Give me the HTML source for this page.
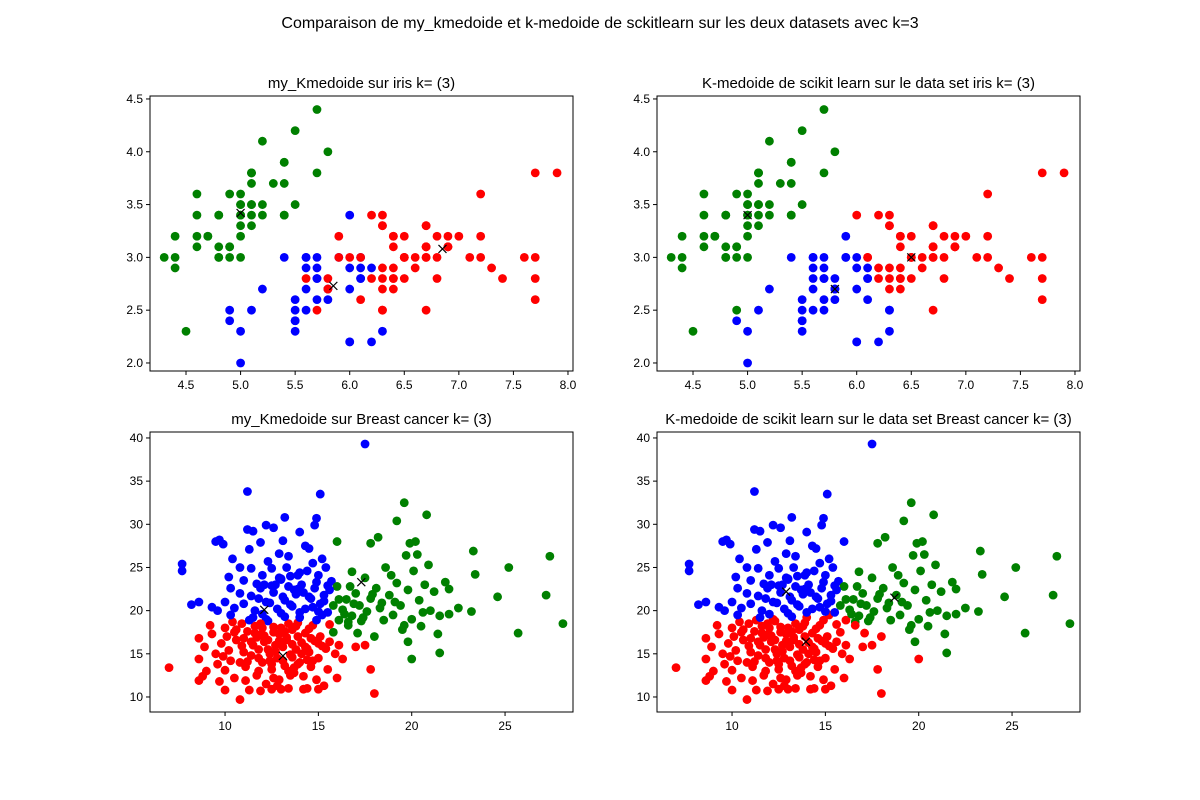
<!DOCTYPE html>
<html><head><meta charset="utf-8"><style>
body{margin:0;background:#fff;}
svg{display:block;font-family:"Liberation Sans","DejaVu Sans",sans-serif;}
</style></head><body>
<svg id="fig" width="1200" height="800" viewBox="0 0 1200 800">
<text x="600" y="28" text-anchor="middle" font-size="16">Comparaison de my_kmedoide et k-medoide de sckitlearn sur les deux datasets avec k=3</text>
</svg>
<script>
// ---- Iris data (sepal length, sepal width) ----
const irisX=[5.1,4.9,4.7,4.6,5.0,5.4,4.6,5.0,4.4,4.9,5.4,4.8,4.8,4.3,5.8,5.7,5.4,5.1,5.7,5.1,5.4,5.1,4.6,5.1,4.8,5.0,5.0,5.2,5.2,4.7,4.8,5.4,5.2,5.5,4.9,5.0,5.5,4.9,4.4,5.1,5.0,4.5,4.4,5.0,5.1,4.8,5.1,4.6,5.3,5.0,
7.0,6.4,6.9,5.5,6.5,5.7,6.3,4.9,6.6,5.2,5.0,5.9,6.0,6.1,5.6,6.7,5.6,5.8,6.2,5.6,5.9,6.1,6.3,6.1,6.4,6.6,6.8,6.7,6.0,5.7,5.5,5.5,5.8,6.0,5.4,6.0,6.7,6.3,5.6,5.5,5.5,6.1,5.8,5.0,5.6,5.7,5.7,6.2,5.1,5.7,
6.3,5.8,7.1,6.3,6.5,7.6,4.9,7.3,6.7,7.2,6.5,6.4,6.8,5.7,5.8,6.4,6.5,7.7,7.7,6.0,6.9,5.6,7.7,6.3,6.7,7.2,6.2,6.1,6.4,7.2,7.4,7.9,6.4,6.3,6.1,7.7,6.3,6.4,6.0,6.9,6.7,6.9,5.8,6.8,6.7,6.7,6.3,6.5,6.2,5.9];
const irisY=[3.5,3.0,3.2,3.1,3.6,3.9,3.4,3.4,2.9,3.1,3.7,3.4,3.0,3.0,4.0,4.4,3.9,3.5,3.8,3.8,3.4,3.7,3.6,3.3,3.4,3.0,3.4,3.5,3.4,3.2,3.1,3.4,4.1,4.2,3.1,3.2,3.5,3.6,3.0,3.4,3.5,2.3,3.2,3.5,3.8,3.0,3.8,3.2,3.7,3.3,
3.2,3.2,3.1,2.3,2.8,2.8,3.3,2.4,2.9,2.7,2.0,3.0,2.2,2.9,2.9,3.1,3.0,2.7,2.2,2.5,3.2,2.8,2.5,2.8,2.9,3.0,2.8,3.0,2.9,2.6,2.4,2.4,2.7,2.7,3.0,3.4,3.1,2.3,3.0,2.5,2.6,3.0,2.6,2.3,2.7,3.0,2.9,2.9,2.5,2.8,
3.3,2.7,3.0,2.9,3.0,3.0,2.5,2.9,2.5,3.6,3.2,2.7,3.0,2.5,2.8,3.2,3.0,3.8,2.6,2.2,3.2,2.8,2.8,2.7,3.3,3.2,2.8,3.0,2.8,3.0,2.8,3.8,2.8,2.8,2.6,3.0,3.4,3.1,3.0,3.1,3.1,3.1,2.7,3.2,3.3,3.0,2.5,3.0,3.4,3.0];
// cluster labels of my_Kmedoide on iris (g=green, b=blue, r=red)
const irisLabels1=("gggggggggggggggggggggggggggggggggggggggggggggggggg"+
"rrrbrbrbrb"+"bbbbbrbbbb"+"rbrbrrrrbb"+"bbbbbbrbbb"+"bbbbbbbbbb"+
"rrrrrrbrrr"+"rrrrrrrrrb"+"rrrrrrrrrr"+"rrrrrrrrrr"+"rrrrrrrrrr").split('');
// medoids [green, blue, red]
const irisMedX1=[5.0,5.85,6.85], irisMedY1=[3.42,2.73,3.08];
const irisMedX2=[5.0,5.8,6.5],  irisMedY2=[3.4,2.7,3.0];
// ---- Breast cancer (mean radius, mean texture) ----
const bcX=[7.0,8.6,8.6,8.9,8.8,8.6,9.0,9.3,9.5,9.6,9.7,9.8,10.0,10.1,10.2,10.3,10.5,10.6,10.8,10.9,11.0,11.1,11.2,11.3,11.4,11.5,11.6,11.7,11.8,11.9,12.0,12.1,12.2,12.3,12.4,12.5,12.6,12.7,12.8,12.9,13.0,13.1,13.2,13.3,13.4,13.5,13.6,13.7,13.8,13.9,14.0,14.1,14.2,14.3,14.4,14.5,14.6,14.7,14.8,14.9,15.0,15.1,15.3,15.4,15.5,15.6,15.9,16.1,16.3,16.6,17.0,17.8,18.0,11.1,10.0,12.5,13.0,14.2,11.8,12.3,12.9,13.6,14.4,11.3,10.4,9.2,11.0,12.0,13.4,14.9,15.8,16.0,15.0,10.0,9.9,10.8,12.6,13.9,14.7,15.6,11.9,12.2,13.2,14.0,15.2,16.1,11.5,10.3,12.8,13.5,14.1,12.4,
10.6,11.4,12.1,12.7,13.3,13.9,14.6,15.2,10.9,11.6,12.3,12.9,13.6,14.3,11.9,12.6,13.2,13.8,14.5,11.2,11.8,12.5,13.1,13.7,14.4,15.0,10.5,11.7,12.9,13.4,
7.7,7.7,8.2,8.6,9.5,9.7,9.9,11.2,11.2,11.5,11.3,11.9,12.2,12.6,12.9,13.1,13.2,13.4,14.0,14.3,14.5,14.8,14.9,15.1,10.4,10.2,11.7,11.4,12.0,12.5,13.0,13.3,13.9,14.4,14.7,15.0,15.4,15.7,16.0,9.3,10.0,10.5,10.8,11.0,11.4,11.6,11.9,12.2,12.5,12.8,13.1,13.4,13.6,13.8,14.1,14.3,14.6,14.8,15.1,15.3,15.5,15.8,16.1,10.3,9.6,12.0,13.0,14.0,15.0,11.0,12.7,13.5,14.2,15.6,12.3,10.8,17.5,16.0,15.2,
12.4,13.2,13.7,14.5,15.3,12.9,13.9,14.9,11.8,12.6,13.5,14.7,15.5,12.1,13.0,14.0,
16.3,16.5,16.8,17.0,17.2,17.3,17.5,17.6,17.8,18.0,18.1,18.3,18.5,18.6,18.8,19.0,19.2,19.4,19.5,19.7,19.8,20.0,20.1,20.2,20.4,20.5,20.7,20.9,21.0,21.2,21.5,21.8,22.0,23.3,23.4,24.6,25.2,27.4,28.1,25.7,27.2,20.0,21.5,19.6,20.8,18.2,19.2,21.4,19.8,17.5,17.1,16.6,22.5,23.2,20.3,19.9,16.8,17.8,22.0,
16.4,16.9,17.4,18.4,19.1,19.6,20.6,16.7,17.9,18.9];
const bcY=[13.4,16.8,14.4,15.8,12.4,11.9,13.0,17.3,15.0,13.8,11.8,16.2,18.0,17.0,15.4,14.2,12.2,16.6,9.7,18.5,15.2,13.5,17.6,10.8,14.8,16.0,18.2,12.5,15.5,17.2,14.0,16.4,11.5,18.8,15.0,13.2,17.5,16.0,14.5,12.0,18.0,15.8,13.6,16.9,11.0,14.9,17.8,12.8,15.5,18.6,14.0,16.3,12.4,17.4,11.0,15.2,13.5,18.3,16.5,12.0,14.5,17.0,11.3,15.6,13.2,18.4,15.0,16.0,14.4,18.7,15.8,13.2,10.4,11.9,13.1,10.9,10.9,10.9,13.0,16.6,17.3,16.1,15.6,18.9,18.7,18.3,16.8,18.0,18.5,18.9,17.5,12.2,10.9,10.8,14.7,14.0,12.2,13.8,14.2,16.4,10.7,19.0,19.3,19.2,19.5,18.9,19.2,19.5,11.3,12.5,15.0,14.2,
17.8,16.4,17.1,15.3,16.6,17.0,16.8,15.9,15.9,17.4,15.5,16.5,14.6,15.8,18.5,18.1,17.6,18.2,17.9,14.1,14.5,13.8,14.2,13.4,14.3,16.2,17.5,16.9,16.2,13.0,
25.4,24.6,20.7,21.0,28.0,28.2,27.7,33.8,29.4,29.2,27.1,27.9,29.9,29.6,26.6,28.1,30.8,26.3,29.1,27.5,27.2,29.9,30.7,33.5,26.0,23.9,23.1,24.9,24.1,24.9,23.6,25.0,24.1,24.6,25.5,24.1,25.0,23.4,22.8,20.4,21.0,20.3,22.0,20.8,21.7,20.0,22.6,21.0,22.9,20.2,21.6,22.8,20.5,21.9,23.0,20.2,21.4,22.6,20.8,21.8,19.8,20.6,21.3,22.6,20.0,19.6,19.7,19.8,19.9,23.5,23.0,24.0,22.1,22.4,25.7,25.0,39.3,28.0,26.0,
20.9,21.2,22.4,21.6,21.1,23.8,22.5,23.3,21.4,22.1,20.7,20.4,22.9,23.0,23.7,24.4,
20.1,21.3,19.4,22.0,20.6,18.8,23.8,19.9,21.4,17.0,22.6,20.3,18.9,25.0,21.8,19.5,23.2,20.6,17.8,26.4,22.4,19.0,24.6,28.0,21.2,18.2,23.0,25.3,20.0,22.2,19.4,23.3,19.6,26.9,24.2,21.6,25.0,26.3,18.5,17.4,21.8,14.4,15.1,32.5,31.1,28.5,30.4,17.3,16.4,16.0,17.4,18.3,20.3,19.9,26.5,27.8,24.5,27.8,22.5,
19.6,20.8,19.2,20.9,21.0,18.3,19.8,22.8,21.9,24.1];
// medoids [blue, red, green]
const bcMedX1=[12.1,13.1,17.3], bcMedY1=[20.1,14.75,23.3];
const bcMedX2=[12.9,13.96,18.7], bcMedY2=[22.2,16.4,21.5];
const irisXTicks=[4.5,5.0,5.5,6.0,6.5,7.0,7.5,8.0], irisYTicks=[2.0,2.5,3.0,3.5,4.0,4.5];
const bcXTicks=[10,15,20,25], bcYTicks=[10,15,20,25,30,35,40];

const NS="http://www.w3.org/2000/svg";
const svg=document.getElementById('fig');
function mk(tag,attrs,parent){const e=document.createElementNS(NS,tag);for(const k in attrs)e.setAttribute(k,attrs[k]);(parent||svg).appendChild(e);return e;}
const cmap={g:'green',b:'blue',r:'red'};
// labelling of my_Kmedoide on breast cancer (region boundaries)
function bcLabel1(x,y){
  if(y>=35) return 'b';
  if(y<17 && x<18.3) return 'r';
  if(x>=16 || (x>=15.8 && y<21)) return 'g';
  if(y>=18.8) return 'b';
  return 'r';
}
function nearest(x,y,mx,my){let best=0,bd=1e9;for(let k=0;k<mx.length;k++){const dx=x-mx[k],dy=y-my[k];const d=dx*dx+dy*dy;if(d<bd){bd=d;best=k;}}return best;}

function panel(name,title,L,T,W,H,xmin,xmax,ymin,ymax,xs,ys,mx,my,colorOf,xt,yt,dec){
  const g=mk('g',{});
  
  
  const sx=v=>L+(v-xmin)/(xmax-xmin)*W, sy=v=>T+(ymax-v)/(ymax-ymin)*H;
  const t=mk('text',{x:L+W/2,y:T-8,'text-anchor':'middle','font-size':15},g);t.textContent=title;
  
  
  for(let i=0;i<xs.length;i++){
    const c=mk('circle',{cx:sx(xs[i]),cy:sy(ys[i]),r:4.4,fill:colorOf(i)},g);
    
    
  }
  for(let k=0;k<mx.length;k++){
    const x=sx(mx[k]),y=sy(my[k]);
    const m=mk('path',{d:`M${x-4},${y-4}L${x+4},${y+4}M${x-4},${y+4}L${x+4},${y-4}`,stroke:'#000','stroke-width':1.2},g);
    
    
  }
  const fr=mk('rect',{x:L,y:T,width:W,height:H,fill:'none',stroke:'#000','stroke-width':1},g);
  
  
  xt.forEach(v=>{const x=sx(v);mk('line',{x1:x,y1:T+H,x2:x,y2:T+H+4,stroke:'#000'},g);
    const l=mk('text',{x:x,y:T+H+18,'text-anchor':'middle','font-size':12},g);l.textContent=v.toFixed(dec);
    
    });
  yt.forEach(v=>{const y=sy(v);mk('line',{x1:L-4,y1:y,x2:L,y2:y,stroke:'#000'},g);
    const l=mk('text',{x:L-7,y:y+4,'text-anchor':'end','font-size':12},g);l.textContent=v.toFixed(dec);
    
    });
}
const ic=['green','blue','red'], bc=['blue','red','green'];
panel('iris-my-kmedoide','my_Kmedoide sur iris k= (3)',150,96,423,275,4.17,8.046,1.924,4.528,irisX,irisY,irisMedX1,irisMedY1,i=>cmap[irisLabels1[i]],irisXTicks,irisYTicks,1);
panel('iris-scikit','K-medoide de scikit learn sur le data set iris k= (3)',657,96,423,275,4.17,8.046,1.924,4.528,irisX,irisY,irisMedX2,irisMedY2,i=>ic[nearest(irisX[i],irisY[i],irisMedX2,irisMedY2)],irisXTicks,irisYTicks,1);
panel('breast-my-kmedoide','my_Kmedoide sur Breast cancer k= (3)',150,432,423,280,5.98,28.64,8.26,40.69,bcX,bcY,bcMedX1,bcMedY1,i=>cmap[bcLabel1(bcX[i],bcY[i])],bcXTicks,bcYTicks,0);
panel('breast-scikit','K-medoide de scikit learn sur le data set Breast cancer k= (3)',657,432,423,280,5.98,28.64,8.26,40.69,bcX,bcY,bcMedX2,bcMedY2,i=>bc[nearest(bcX[i],bcY[i],bcMedX2,bcMedY2)],bcXTicks,bcYTicks,0);
</script>
</body></html>
